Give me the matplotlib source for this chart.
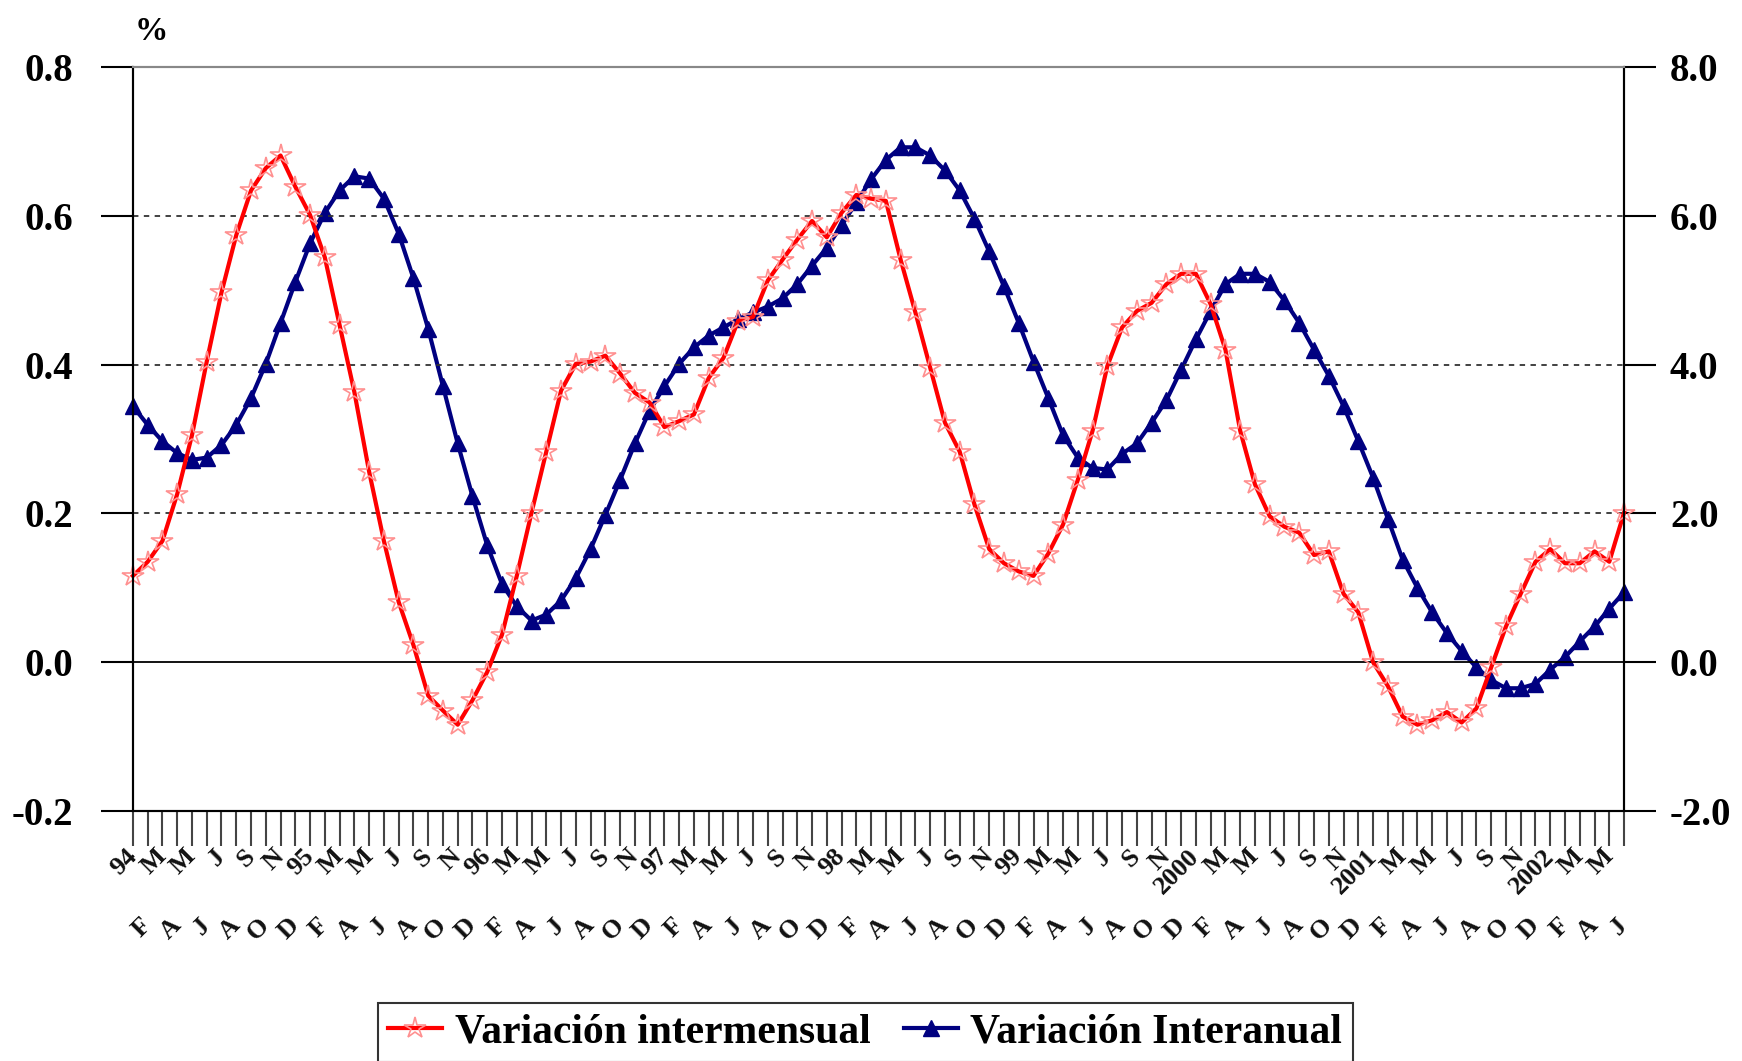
import matplotlib
matplotlib.use("Agg")
import matplotlib.pyplot as plt
import numpy as np

# monthly series, Jan 1994 .. Jun 2002
years = ["94", "95", "96", "97", "98", "99", "2000", "2001", "2002"]
month_letters = ["F", "M", "A", "M", "J", "J", "A", "S", "O", "N", "D"]

intermensual = [
    0.116, 0.135, 0.163, 0.226, 0.305, 0.404, 0.497, 0.574, 0.634, 0.664, 0.681, 0.639,
    0.601, 0.544, 0.453, 0.363, 0.256, 0.163, 0.081, 0.023, -0.045, -0.065, -0.084, -0.051,
    -0.013, 0.037, 0.116, 0.201, 0.283, 0.365, 0.401, 0.404, 0.412, 0.388, 0.362, 0.349,
    0.316, 0.324, 0.333, 0.382, 0.409, 0.459, 0.464, 0.513, 0.541, 0.568, 0.593, 0.571,
    0.604, 0.628, 0.623, 0.620, 0.541, 0.470, 0.396, 0.322, 0.283, 0.212, 0.152, 0.133,
    0.122, 0.116, 0.146, 0.185, 0.245, 0.311, 0.398, 0.450, 0.472, 0.483, 0.508, 0.522,
    0.522, 0.481, 0.420, 0.311, 0.239, 0.196, 0.182, 0.174, 0.144, 0.149, 0.092, 0.067,
    0.000, -0.032, -0.073, -0.084, -0.078, -0.067, -0.081, -0.062, -0.007, 0.048, 0.092, 0.135,
    0.152, 0.133, 0.133, 0.149, 0.135, 0.201,
]

interanual = [
    3.44, 3.19, 2.97, 2.81, 2.72, 2.75, 2.92, 3.19, 3.55, 4.01, 4.56, 5.11,
    5.63, 6.04, 6.34, 6.53, 6.50, 6.23, 5.76, 5.16, 4.48, 3.71, 2.94, 2.23,
    1.57, 1.05, 0.75, 0.56, 0.64, 0.83, 1.13, 1.52, 1.98, 2.45, 2.94, 3.38,
    3.71, 4.01, 4.23, 4.39, 4.50, 4.61, 4.70, 4.78, 4.89, 5.08, 5.33, 5.57,
    5.87, 6.18, 6.49, 6.75, 6.92, 6.92, 6.81, 6.61, 6.34, 5.96, 5.52, 5.05,
    4.56, 4.04, 3.55, 3.05, 2.75, 2.61, 2.59, 2.80, 2.94, 3.22, 3.52, 3.93,
    4.34, 4.72, 5.08, 5.22, 5.22, 5.11, 4.86, 4.56, 4.20, 3.85, 3.44, 2.97,
    2.48, 1.93, 1.38, 1.00, 0.67, 0.39, 0.15, -0.07, -0.24, -0.35, -0.35, -0.29,
    -0.10, 0.07, 0.28, 0.48, 0.72, 0.94,
]

x = np.arange(len(intermensual))
labels = []
for i in x:
    m = i % 12
    labels.append(years[i // 12] if m == 0 else month_letters[m - 1])

serif = "Liberation Serif"
red = "#ff0000"
navy = "#000080"

fig = plt.figure(figsize=(17.42, 10.61), dpi=100)
ax = fig.add_axes([0.0763, 0.2356, 0.856, 0.7013])
ax2 = ax.twinx()

ax.set_zorder(ax2.get_zorder() + 1)
ax.patch.set_visible(False)

ax2.plot(x, interanual, color=navy, lw=3, marker="^", ms=11, mfc=navy, mec=navy,
         label="Variación Interanual", clip_on=False)
ax.plot(x, intermensual, color=red, lw=3, marker="*", ms=16, mfc="none", mec="#ff9090",
        mew=1.2, label="Variación intermensual", clip_on=False)

ax.set_xlim(0, len(x) - 1)
ax.set_ylim(-0.2, 0.8)
ax2.set_ylim(-2.0, 8.0)
ax.set_yticks(np.arange(-0.2, 0.81, 0.2))
ax2.set_yticks(np.arange(-2.0, 8.1, 2.0))
ax.set_yticklabels([f"{v:.1f}" for v in np.arange(-0.2, 0.81, 0.2)])
ax2.set_yticklabels([f"{v:.1f}" for v in np.arange(-2.0, 8.1, 2.0)])

for v in [0.2, 0.4, 0.6]:
    ax.axhline(v, color="#333333", lw=1.3, ls=(0, (3, 3)), zorder=0)
ax.axhline(0.0, color="black", lw=1.3, zorder=0)

for a in (ax, ax2):
    for s in ("left", "right", "bottom"):
        a.spines[s].set_color("black")
        a.spines[s].set_linewidth(1.5)
    a.spines["top"].set_color("#888888")
    a.spines["top"].set_linewidth(1.5)

ax.tick_params(axis="y", direction="out", length=23, width=1.5, pad=20, labelsize=28,
               colors="black")
ax2.tick_params(axis="y", direction="out", length=23, width=1.5, pad=10, labelsize=28,
                colors="black")
for t in ax.get_yticklabels() + ax2.get_yticklabels():
    t.set_fontfamily(serif)
    t.set_fontweight("bold")

# alternate month labels on two rows
ax.set_xticks(x[0::2], labels[0::2])
ax.set_xticks(x[1::2], labels[1::2], minor=True)
ax.tick_params(axis="x", which="both", direction="out", length=25, width=1.5,
               colors="#444444", labelsize=19, labelcolor="#111111")
ax.tick_params(axis="x", which="major", pad=5)
ax.tick_params(axis="x", which="minor", pad=55)
for t in ax.get_xticklabels(which="both"):
    t.set_fontfamily(serif)
    t.set_fontweight("bold")
    t.set_rotation(45)
    t.set_rotation_mode("anchor")
    t.set_ha("right")
    t.set_va("center")

fig.text(0.077, 0.97, "%", fontsize=24, fontweight="bold", family=serif,
         ha="left", va="center")

h1, l1 = ax.get_legend_handles_labels()
h2, l2 = ax2.get_legend_handles_labels()
leg = fig.legend(h1 + h2, l1 + l2, loc="upper center", bbox_to_anchor=(0.4966, 0.0745),
                 ncol=2, frameon=True, fancybox=False, edgecolor="black",
                 prop={"family": serif, "weight": "bold", "size": 30},
                 handlelength=1.3, handletextpad=0.3, columnspacing=0.8,
                 borderpad=0.25)
leg.get_frame().set_linewidth(1.5)

fig.savefig("out.png", dpi=100)
